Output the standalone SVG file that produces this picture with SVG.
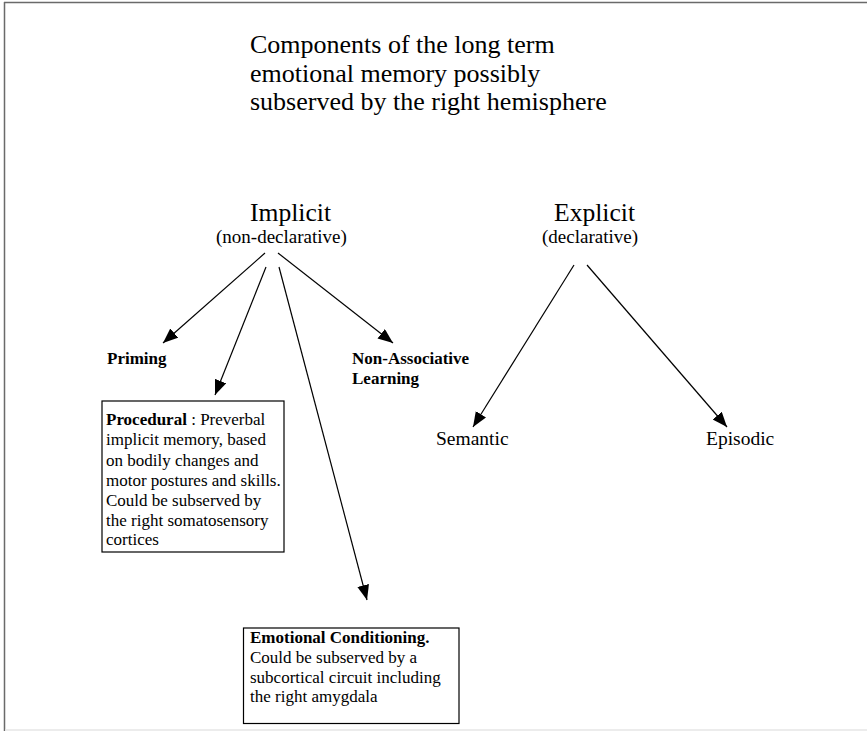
<svg xmlns="http://www.w3.org/2000/svg" width="867" height="731" viewBox="0 0 867 731">
<defs>
<style>
text{font-family:"Liberation Serif","Times New Roman",serif;fill:#000}
.title{font-size:26px}
.head{font-size:25.6px}
.sub{font-size:19px}
.lbl{font-size:17px;font-weight:bold}
.body{font-size:17px}
.leaf{font-size:19.5px}
.box{fill:#fff;stroke:#000;stroke-width:1.2}
.conn line{stroke:#000;stroke-width:1.2;marker-end:url(#arr)}
</style>
<marker id="arr" markerUnits="userSpaceOnUse" markerWidth="16" markerHeight="13" refX="15" refY="6" orient="auto">
<path d="M0,0 L15,6 L0,12 z" fill="#000"/>
</marker>
</defs>
<rect width="867" height="731" fill="#fff"/>
<g id="frame">
<line x1="4" y1="2.5" x2="867" y2="2.5" stroke="#6a6a6a" stroke-width="1.5"/>
<line x1="4.5" y1="2" x2="4.5" y2="731" stroke="#6a6a6a" stroke-width="1.5"/>
<line x1="5" y1="730" x2="867" y2="730" stroke="#e6e6e6" stroke-width="1.5"/>
</g>
<g id="title">
<text class="title" x="250" y="53">Components of the long term</text>
<text class="title" x="250" y="81.5">emotional memory possibly</text>
<text class="title" x="250" y="110">subserved by the right hemisphere</text>
</g>
<g id="implicit">
<text class="head" x="250" y="220.5">Implicit</text>
<text class="sub" x="216" y="243">(non-declarative)</text>
</g>
<g id="explicit">
<text class="head" x="554" y="220.5">Explicit</text>
<text class="sub" x="542" y="243">(declarative)</text>
</g>
<g id="priming">
<text class="lbl" x="107" y="364">Priming</text>
</g>
<g id="nonassociative">
<text class="lbl" x="352" y="364">Non-Associative</text>
<text class="lbl" x="352" y="384">Learning</text>
</g>
<g id="procedural">
<rect class="box" x="102" y="401" width="182" height="151"/>
<text class="body" x="106" y="425"><tspan font-weight="bold">Procedural</tspan> : Preverbal</text>
<text class="body" x="106" y="445">implicit memory, based</text>
<text class="body" x="106" y="465.5">on bodily changes and</text>
<text class="body" x="106" y="486">motor postures and skills.</text>
<text class="body" x="106" y="506">Could be subserved by</text>
<text class="body" x="106" y="526">the right somatosensory</text>
<text class="body" x="106" y="545">cortices</text>
</g>
<g id="emotional">
<rect class="box" x="243.5" y="628" width="215.5" height="95.5"/>
<text class="body" x="250" y="643" font-weight="bold">Emotional Conditioning.</text>
<text class="body" x="250" y="663">Could be subserved by a</text>
<text class="body" x="250" y="683">subcortical circuit including</text>
<text class="body" x="250" y="702">the right amygdala</text>
</g>
<g id="semantic">
<text class="leaf" x="436" y="445">Semantic</text>
</g>
<g id="episodic">
<text class="leaf" x="706" y="445">Episodic</text>
</g>
<g id="connectors" class="conn">
<line x1="265" y1="253" x2="163" y2="343"/>
<line x1="266" y1="267" x2="215" y2="395"/>
<line x1="279" y1="267" x2="367" y2="600"/>
<line x1="278" y1="253" x2="393" y2="343"/>
<line x1="574" y1="265" x2="473" y2="427"/>
<line x1="587" y1="265" x2="727" y2="427"/>
</g>
</svg>
